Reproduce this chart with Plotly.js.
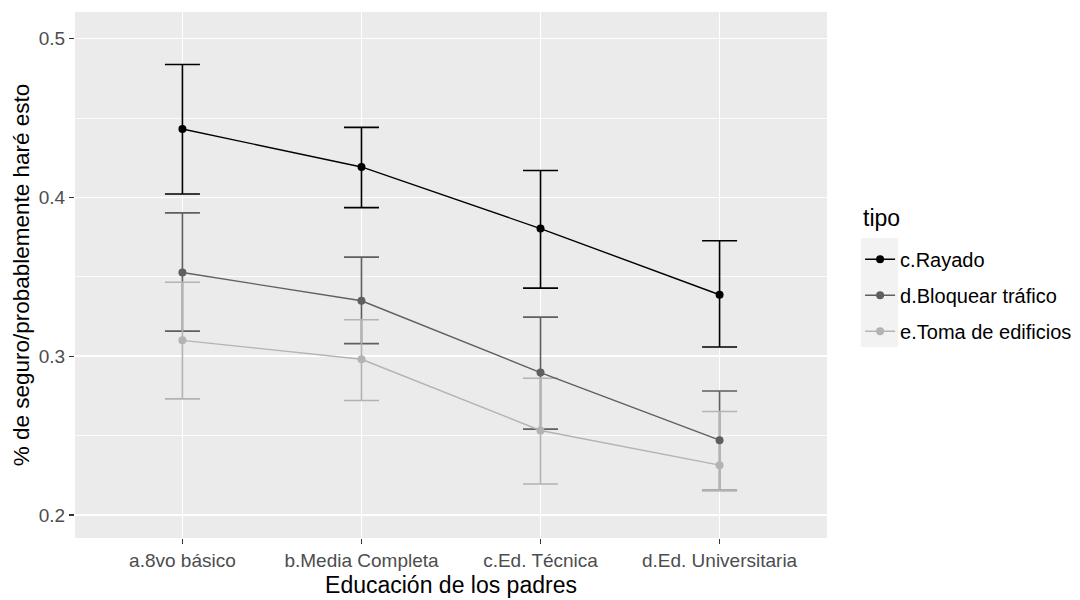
<!DOCTYPE html>
<html>
<head>
<meta charset="utf-8">
<script src="https://cdn.plot.ly/plotly-3.0.1.min.js"></script>
<style>html,body{margin:0;padding:0;background:#fff;}#chart{width:1080px;height:600px;}</style>
</head>
<body>
<div id="chart"></div>
<script>
// Categories (x axis)
const categories = ["a.8vo básico", "b.Media Completa", "c.Ed. Técnica", "d.Ed. Universitaria"];

// Series names
const seriesNames = ["c.Rayado", "d.Bloquear tráfico", "e.Toma de edificios"];

// Mean values
const rayadoVals    = [0.4431, 0.4192, 0.3804, 0.3387];
const bloquearVals  = [0.3527, 0.3349, 0.2897, 0.2471];
const tomaVals      = [0.3100, 0.2981, 0.2532, 0.2314];

// Upper / lower interval bounds
const rayadoUpper   = [0.4837, 0.4441, 0.4170, 0.3727];
const rayadoLower   = [0.4022, 0.3936, 0.3429, 0.3058];
const bloquearUpper = [0.3903, 0.3624, 0.3246, 0.2781];
const bloquearLower = [0.3158, 0.3079, 0.2541, 0.2155];
const tomaUpper     = [0.3466, 0.3230, 0.2861, 0.2652];
const tomaLower     = [0.2731, 0.2721, 0.2195, 0.2155];

// Y tick values
const yTicks = [0.2, 0.3, 0.4, 0.5];
const yTickText = ["0.2", "0.3", "0.4", "0.5"];

const colors = ["#000000", "#5f5f5f", "#b3b3b3"];
const vals = [rayadoVals, bloquearVals, tomaVals];
const ups = [rayadoUpper, bloquearUpper, tomaUpper];
const lows = [rayadoLower, bloquearLower, tomaLower];

const traces = [];
// error bar layer
for (let i = 0; i < 3; i++) {
  traces.push({
    type: "scatter", mode: "markers", x: categories, y: vals[i],
    marker: {size: 2, opacity: 0, color: colors[i]},
    showlegend: false, hoverinfo: "skip",
    error_y: {
      type: "data", symmetric: false,
      array: ups[i].map((u, k) => u - vals[i][k]),
      arrayminus: lows[i].map((l, k) => vals[i][k] - l),
      color: colors[i], thickness: 1.6, width: 17.5
    }
  });
}
// lines + points layer
for (let i = 0; i < 3; i++) {
  traces.push({
    type: "scatter", mode: "lines+markers", x: categories, y: vals[i],
    name: seriesNames[i], legendgroup: "g" + i,
    line: {color: colors[i], width: 1.4},
    marker: {color: colors[i], size: 8}
  });
}

const layout = {
  width: 1080, height: 600,
  margin: {l: 75, r: 253, t: 12, b: 62, autoexpand: false},
  paper_bgcolor: "#ffffff",
  plot_bgcolor: "#ebebeb",
  font: {family: "Liberation Sans, Arial, sans-serif", color: "#000"},
  xaxis: {
    type: "category",
    range: [-0.6, 3.6],
    automargin: false,
    showgrid: true, gridcolor: "#ffffff", gridwidth: 1.6,
    zeroline: false, showline: false,
    ticks: "outside", ticklen: 5, tickwidth: 1.2, tickcolor: "#333333",
    tickfont: {size: 19, color: "#4d4d4d"},
    title: {text: "Educación de los padres", font: {size: 23, color: "#000"}, standoff: 7}
  },
  yaxis: {
    range: [0.1855, 0.5168],
    automargin: false,
    tickvals: yTicks, ticktext: yTickText,
    showgrid: true, gridcolor: "#ffffff", gridwidth: 1.6,
    minor: {dtick: 0.05, tick0: 0.15, showgrid: true, gridcolor: "#ffffff", gridwidth: 0.8, ticks: ""},
    zeroline: false, showline: false,
    ticks: "outside", ticklen: 5, tickwidth: 1.2, tickcolor: "#333333",
    tickfont: {size: 19, color: "#4d4d4d"},
    title: {text: "% de seguro/probablemente haré esto", font: {size: 22.5, color: "#000"}, standoff: 2}
  },
  legend: {
    x: 1.044, xanchor: "left", y: 0.567, yanchor: "top",
    bgcolor: "rgba(0,0,0,0)",
    font: {size: 20, color: "#000"},
    itemwidth: 30,
    tracegroupgap: 7
  },
  annotations: [{
    text: "tipo", xref: "paper", yref: "paper",
    x: 1.0452, y: 0.608, xanchor: "left", yanchor: "middle",
    showarrow: false, font: {size: 23, color: "#000"}
  }],
  shapes: [{
    type: "rect", xref: "paper", yref: "paper",
    x0: 1.0452, x1: 1.0944, y0: 0.3631, y1: 0.5703,
    fillcolor: "#f2f2f2", line: {width: 0}, layer: "below"
  }]
};

Plotly.newPlot("chart", traces, layout, {displayModeBar: false, staticPlot: true});
</script>
</body>
</html>
